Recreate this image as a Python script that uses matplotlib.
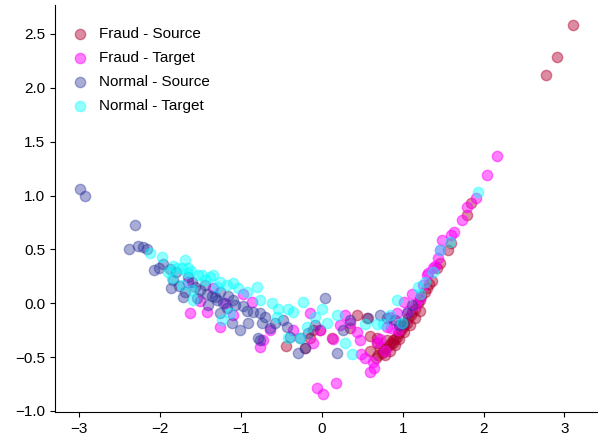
import matplotlib
matplotlib.use("Agg")
import matplotlib.pyplot as plt

plt.rcParams['font.family'] = ['Liberation Sans', 'DejaVu Sans']

# Fraud - Source
fs_x = [-0.44, -0.21, -0.15, -0.11, -0.02, 0.12, 0.35, 0.43, 0.56, 0.59, 0.59, 0.68, 0.68, 0.72,
        0.80, 0.88, 0.67, 0.69, 0.74, 0.77, 0.79, 0.83, 0.85, 0.88, 0.90, 0.93, 0.95, 0.98, 1.00,
        1.02, 1.05, 1.07, 1.10, 1.12, 1.15, 1.19, 1.21, 1.23, 1.27, 1.30, 1.33, 1.36, 0.78, 0.84,
        0.90, 0.96, 1.02, 1.09, 1.15, 1.21, 1.42, 1.46, 1.56, 1.60, 1.79, 1.85, 2.77, 2.91, 3.11]
fs_y = [-0.40, -0.42, -0.32, -0.25, -0.25, -0.32, -0.23, -0.11, -0.14, -0.30, -0.44, -0.32, -0.37, -0.42,
        -0.34, -0.37, -0.51, -0.48, -0.46, -0.44, -0.42, -0.39, -0.37, -0.34, -0.33, -0.31, -0.28, -0.25, -0.22,
        -0.20, -0.18, -0.14, -0.11, -0.08, -0.05, 0.00, 0.03, 0.07, 0.10, 0.14, 0.18, 0.21, -0.48, -0.44,
        -0.39, -0.33, -0.27, -0.20, -0.14, -0.07, 0.33, 0.37, 0.49, 0.56, 0.82, 0.93, 2.12, 2.29, 2.58]

# Fraud - Target
ft_x = [-1.65, -1.63, -1.51, -1.42, -1.35, -1.26, -1.20, -1.10, -0.98, -0.86, -0.77, -0.73, -0.64,
        -0.36, -0.15, -0.11, -0.06, 0.02, 0.17, -0.02, 0.14, 0.22, 0.28, 0.35, 0.43, 0.47, 0.49, 0.53,
        0.59, 0.63, 0.65, 0.68, 0.72, 0.78, 0.80, 0.84, 0.86, 0.93, 1.02, 1.06, 1.12, 1.30, 1.31, 1.37,
        1.40, 1.43, 1.46, 1.49, 1.60, 1.64, 1.73, 1.80, 1.91, 2.04, 2.16, 0.94, 1.15, 1.21, 1.25]
ft_y = [0.20, -0.09, 0.02, -0.08, 0.14, -0.22, 0.00, -0.11, 0.09, 0.01, -0.41, -0.34, -0.25,
        -0.25, -0.09, -0.37, -0.79, -0.84, -0.74, -0.25, -0.33, -0.20, -0.11, -0.18, -0.27, -0.34, -0.47, -0.51,
        -0.64, -0.55, -0.60, -0.36, -0.33, -0.44, -0.22, -0.13, -0.23, -0.09, 0.01, -0.07, 0.09, 0.26, 0.28, 0.33,
        0.35, 0.42, 0.49, 0.59, 0.63, 0.66, 0.77, 0.89, 0.98, 1.19, 1.37, -0.25, -0.02, 0.05, 0.17]

# Normal - Source
ns_x = [-2.99, -2.93, -2.31, -2.38, -2.27, -2.21, -2.16, -2.07, -2.02, -1.96, -1.88, -1.84, -1.80,
        -1.77, -1.69, -1.65, -1.60, -1.57, -1.51, -1.44, -1.42, -1.41, -1.36, -1.32, -1.30, -1.26, -1.26,
        -1.22, -1.17, -1.16, -1.11, -1.10, -1.07, -1.01, -0.98, -0.93, -0.91, -0.85, -0.79, -0.77, -0.77,
        -0.74, -0.70, -0.64, -0.58, -0.48, -0.43, -0.40, -0.30, -0.27, -0.21, -0.17, -0.09, 0.04, 0.19,
        0.26, 0.35, 0.57, 0.72, 0.81, 0.90, 0.96, 1.00, 1.05, 1.11, -1.86, -1.72, -1.55]
ns_y = [1.06, 1.00, 0.73, 0.50, 0.53, 0.52, 0.50, 0.31, 0.33, 0.36, 0.32, 0.22, 0.29,
        0.16, 0.10, 0.24, 0.20, 0.15, 0.12, 0.17, 0.09, -0.02, 0.07, 0.06, 0.03, 0.10, -0.09,
        0.00, -0.04, 0.07, -0.18, 0.03, -0.02, -0.25, -0.03, -0.07, -0.18, -0.08, -0.32, -0.09, -0.34,
        -0.18, -0.13, -0.23, -0.18, -0.16, -0.22, -0.31, -0.46, -0.32, -0.42, -0.28, -0.20, 0.05, -0.46,
        -0.25, -0.16, -0.14, -0.11, -0.14, -0.16, -0.20, -0.18, -0.09, -0.02, 0.14, 0.06, 0.05]

# Normal - Target
nt_x = [-2.12, -1.98, -1.90, -1.85, -1.84, -1.79, -1.73, -1.73, -1.69, -1.67, -1.65, -1.60, -1.59,
        -1.53, -1.48, -1.38, -1.35, -1.26, -1.23, -1.17, -1.14, -1.10, -1.04, -0.93, -0.80, -0.77, -0.62,
        -0.56, -0.54, -0.42, -0.42, -0.36, -0.27, -0.23, -0.19, -0.09, 0.00, 0.06, 0.19, 0.28, 0.37, 0.53,
        0.68, 0.75, 0.84, 0.93, 0.99, 1.19, 1.21, 1.28, 1.37, 1.46, 1.58, 1.93, -1.62, -1.44, -1.30]
nt_y = [0.47, 0.43, 0.29, 0.23, 0.35, 0.33, 0.33, 0.17, 0.40, 0.28, 0.33, 0.12, 0.03,
        0.26, 0.26, 0.24, 0.26, 0.20, -0.16, 0.17, -0.09, 0.19, 0.14, 0.10, 0.15, 0.03, 0.00,
        -0.13, -0.05, -0.05, -0.32, -0.08, -0.32, 0.01, -0.22, -0.13, -0.05, -0.18, -0.11, -0.37, -0.47, -0.19,
        -0.19, -0.19, -0.11, 0.03, -0.18, 0.15, 0.09, 0.20, 0.29, 0.49, 0.57, 1.03, 0.30, 0.22, 0.15]

fig = plt.figure(figsize=(5.98, 4.43), dpi=100)
ax = fig.add_axes([0.092, 0.070, 0.906, 0.919])

ax.scatter(fs_x, fs_y, s=55, color='#b30030', alpha=0.45, label='Fraud - Source')
ax.scatter(ft_x, ft_y, s=55, color='#ff00ff', alpha=0.5, label='Fraud - Target')
ax.scatter(ns_x, ns_y, s=55, color='#28339a', alpha=0.4, label='Normal - Source')
ax.scatter(nt_x, nt_y, s=55, color='#00ffff', alpha=0.42, label='Normal - Target')

ax.set_xlim(-3.30, 3.40)
ax.set_ylim(-1.01, 2.77)
ax.set_xticks([-3, -2, -1, 0, 1, 2, 3])
ax.set_yticks([-1.0, -0.5, 0.0, 0.5, 1.0, 1.5, 2.0, 2.5])
ax.tick_params(labelsize=11)
ax.spines['top'].set_visible(False)
ax.spines['right'].set_visible(False)

ax.legend(loc='upper left', frameon=False, fontsize=11, borderaxespad=0,
          bbox_to_anchor=(0.02, 0.96), handlelength=1.0, handletextpad=0.8,
          labelspacing=0.65)

fig.savefig('out.png', dpi=100)
